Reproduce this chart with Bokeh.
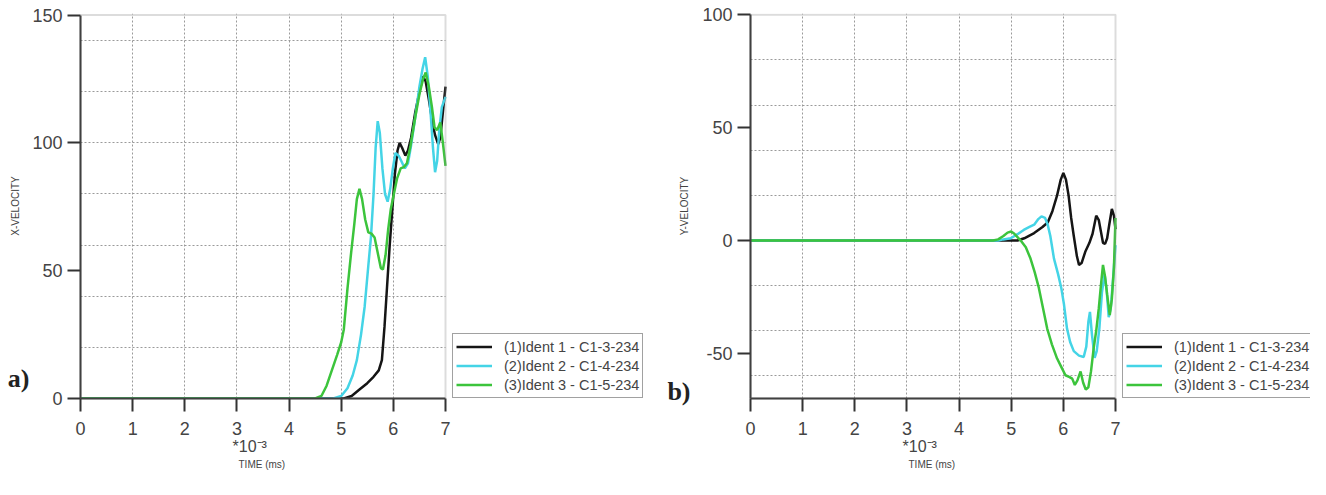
from bokeh.plotting import figure
from bokeh.layouts import row
from bokeh.models import (Range1d, FixedTicker, Legend, LegendItem, Title, LinearAxis,
                          BoxAnnotation)
from bokeh.embed import file_html
from bokeh.resources import INLINE

# ---------------- data ----------------
series_names = ["(1)Ident 1 - C1-3-234", "(2)Ident 2 - C1-4-234", "(3)Ident 3 - C1-5-234"]
series_colors = ["#151515", "#44d4e6", "#3cc43c"]

# Panel a) X-velocity
xv1_t = [0, 5.05, 5.2, 5.35, 5.5, 5.62, 5.72, 5.78, 5.83, 5.88, 5.93, 5.98, 6.03, 6.08, 6.12, 6.17,
         6.23, 6.28, 6.34, 6.42, 6.5, 6.57, 6.62, 6.68, 6.75, 6.8, 6.86, 6.9, 6.95, 7.0]
xv1_v = [0, 0, 1, 3.5, 6, 8.5, 11, 15, 28, 44, 60, 74, 88, 97, 100, 98,
         95, 97, 102, 112, 120, 126, 124, 117, 108, 103, 99.5, 102, 112, 122]

xv2_t = [0, 4.85, 5.0, 5.12, 5.22, 5.3, 5.38, 5.45, 5.52, 5.57, 5.62, 5.66, 5.70, 5.74, 5.79, 5.84,
         5.89, 5.94, 5.99, 6.04, 6.1, 6.15, 6.22, 6.28, 6.34, 6.42, 6.5, 6.56, 6.61, 6.66, 6.71, 6.76,
         6.8, 6.84, 6.88, 6.93, 7.0]
xv2_v = [0, 0, 1, 4, 9, 15, 25, 36, 52, 63, 80, 98, 108.5, 104, 90, 80,
         77, 82, 90, 96, 95, 93, 90, 92, 99, 110, 122, 129, 133.5, 126, 113, 98,
         88.5, 93, 105, 114, 118]

xv3_t = [0, 4.5, 4.62, 4.72, 4.82, 4.92, 5.0, 5.05, 5.12, 5.19, 5.25, 5.3, 5.35, 5.4, 5.46, 5.52,
         5.58, 5.64, 5.7, 5.76, 5.8, 5.85, 5.9, 5.95, 6.0, 6.07, 6.14, 6.2, 6.26, 6.33, 6.42, 6.5,
         6.57, 6.62, 6.68, 6.74, 6.79, 6.84, 6.9, 6.95, 7.0]
xv3_v = [0, 0, 1, 5, 11, 17, 22, 27, 43, 57, 68, 78, 82, 78, 70, 65,
         64.5, 63, 57, 51, 50.5, 56, 66, 74, 79, 86, 90, 90.5, 92, 99, 110, 119,
         125, 127.5, 122, 114, 106, 105, 108, 100, 91]

# Panel b) Y-velocity
yv1_t = [0, 5.12, 5.25, 5.44, 5.6, 5.7, 5.79, 5.88, 5.95, 6.0, 6.05, 6.1, 6.15, 6.2, 6.26, 6.3,
         6.35, 6.42, 6.5, 6.56, 6.63, 6.68, 6.72, 6.76, 6.8, 6.84, 6.88, 6.93, 6.97, 7.0]
yv1_v = [0, 0, 1, 3.3, 6, 8, 13, 20, 27, 30, 27, 20, 10, 2, -7, -10.8,
         -10, -5, -1, 3, 11, 9, 4, -1, -1.5, 1, 7, 14, 11, 5]

yv2_t = [0, 4.75, 4.85, 4.99, 5.1, 5.24, 5.35, 5.44, 5.52, 5.58, 5.65, 5.7, 5.75, 5.82, 5.9, 5.96,
         6.01, 6.07, 6.13, 6.2, 6.3, 6.39, 6.44, 6.48, 6.51, 6.55, 6.6, 6.64, 6.69, 6.74, 6.79, 6.83,
         6.87, 6.91, 6.95, 7.0]
yv2_v = [0, 0, 0.5, 1, 2.5, 4.7, 6, 7, 9.5, 10.7, 10, 7, 2, -8, -15, -21,
         -28, -39, -45, -49, -51, -51.6, -47, -36, -31.6, -42, -52, -49, -39, -23, -15, -22,
         -34, -30, -18, -2]

yv3_t = [0, 4.65, 4.75, 4.85, 4.93, 5.0, 5.06, 5.12, 5.2, 5.28, 5.37, 5.45, 5.53, 5.61, 5.69, 5.78,
         5.88, 5.96, 6.04, 6.12, 6.17, 6.22, 6.27, 6.33, 6.38, 6.43, 6.48, 6.53, 6.58, 6.63, 6.68, 6.72,
         6.76, 6.8, 6.84, 6.89, 6.93, 6.97, 7.0]
yv3_v = [0, 0, 0.5, 2, 3.5, 4, 3, 1.5, -0.5, -3, -8, -14, -21, -30, -39, -46,
         -52.3, -56, -59.7, -60.5, -61.2, -64, -62, -58, -63, -66, -65, -58, -48, -40, -30, -20,
         -10.8, -16, -24, -33, -26, -12, 10]

x_ticks = [0, 1, 2, 3, 4, 5, 6, 7]
x_grid = [1, 2, 3, 4, 5, 6]
a_y_ticks = [0, 50, 100, 150]
a_y_grid = [20, 40, 60, 80, 100, 120, 140]
b_y_ticks = [-50, 0, 50, 100]
b_y_grid = [-60, -40, -20, 20, 40, 60, 80]

TXT = "#444444"
FONT = "Liberation Sans"
X_MAX = 7
FRAME_PX = 365.0  # pixel width of the 0..7 box


def make_panel(width, ml, y_lo, y_hi, yticks, ygrid, data, ylabel, letter, letter_at,
               letter_standoff, ylabel_standoff, top_border, bottom_border):
    frame_w = width - ml
    p = figure(width=width, height=479,
               x_range=Range1d(0, X_MAX * frame_w / FRAME_PX), y_range=Range1d(y_lo, y_hi),
               output_backend="svg", toolbar_location=None, title=None,
               min_border_left=ml, min_border_right=0, min_border_top=13,
               min_border_bottom=bottom_border)
    p.outline_line_color = None

    p.xaxis.ticker = FixedTicker(ticks=x_ticks)
    p.yaxis.ticker = FixedTicker(ticks=yticks)
    p.yaxis.major_label_overrides = {t: str(t) for t in yticks}
    p.xaxis.bounds = (0, X_MAX)
    p.yaxis.bounds = (y_lo, top_border)
    p.xgrid.ticker = FixedTicker(ticks=x_grid)
    p.ygrid.ticker = FixedTicker(ticks=ygrid)
    for g in (p.xgrid, p.ygrid):
        g.grid_line_color = "#9a9a9a"
        g.grid_line_dash = "2 2"
        g.grid_line_width = 1
    for ax in (p.xaxis, p.yaxis):
        ax.axis_line_color = "#333333"
        ax.axis_line_width = 2
        ax.major_tick_line_color = "#333333"
        ax.major_tick_line_width = 2
        ax.major_tick_out = 13
        ax.major_tick_in = 0
        ax.minor_tick_out = 0
        ax.minor_tick_in = 0
        ax.major_label_text_font = FONT
        ax.major_label_text_font_size = "18px"
        ax.major_label_text_color = TXT
    p.xaxis.major_label_standoff = 10
    p.yaxis.major_label_standoff = 5

    # white mask right of the box (hides grid lines there), then the box border
    p.add_layout(BoxAnnotation(left=X_MAX, fill_color="white", fill_alpha=1, line_color=None,
                               level="underlay"))
    p.add_layout(BoxAnnotation(left=0, right=X_MAX, bottom=y_lo, top=top_border,
                               fill_alpha=0, line_color="#8a8a8a", line_width=2))

    # texts below the x axis
    p.add_layout(Title(text="*10\u207b\u00b3", align="left", offset=152, text_font=FONT,
                       text_font_size="16px", text_font_style="normal", text_color=TXT,
                       standoff=-4), "below")
    p.add_layout(Title(text="TIME (ms)", align="left", offset=158, text_font=FONT,
                       text_font_size="10px", text_font_style="normal", text_color=TXT,
                       standoff=9), "below")

    # outer left axis carrying the panel letter and the y-axis title
    outer = LinearAxis(ticker=FixedTicker(ticks=[letter_at]),
                       major_label_overrides={letter_at: letter},
                       axis_line_alpha=0, major_tick_out=0, major_tick_in=0,
                       minor_tick_out=0, minor_tick_in=0,
                       major_label_standoff=letter_standoff,
                       major_label_text_font="Liberation Serif",
                       major_label_text_font_style="bold",
                       major_label_text_font_size="26px",
                       major_label_text_color="#222222",
                       axis_label=ylabel, axis_label_text_font=FONT,
                       axis_label_text_font_size="10px", axis_label_text_font_style="normal",
                       axis_label_text_color=TXT, axis_label_standoff=ylabel_standoff)
    p.add_layout(outer, "left")

    items = []
    for (t, v), name, col in zip(data, series_names, series_colors):
        r = p.line(t, v, line_color=col, line_width=2.5)
        items.append(LegendItem(label=name, renderers=[r]))
    leg = Legend(items=items, location=(372, 0),
                 label_text_font=FONT, label_text_font_size="14.5px", label_text_color=TXT,
                 glyph_width=36, glyph_height=19, label_height=19, label_standoff=12,
                 padding=3, spacing=0, margin=0,
                 border_line_color="#444444", border_line_width=1.5,
                 background_fill_color="white", background_fill_alpha=1)
    p.add_layout(leg)
    return p


p1 = make_panel(660, 80, 0, 150.6, a_y_ticks, a_y_grid,
                [(xv1_t, xv1_v), (xv2_t, xv2_v), (xv3_t, xv3_v)],
                "X-VELOCITY", "a)", 8, 0, -16, 150, 80)
p2 = make_panel(650, 90, -70, 100.6, b_y_ticks, b_y_grid,
                [(yv1_t, yv1_v), (yv2_t, yv2_v), (yv3_t, yv3_v)],
                "Y-VELOCITY", "b)", -67, 9, -26, 100, 81)

layout = row(p1, p2)
open("out.html", "w").write(file_html(layout, INLINE))
